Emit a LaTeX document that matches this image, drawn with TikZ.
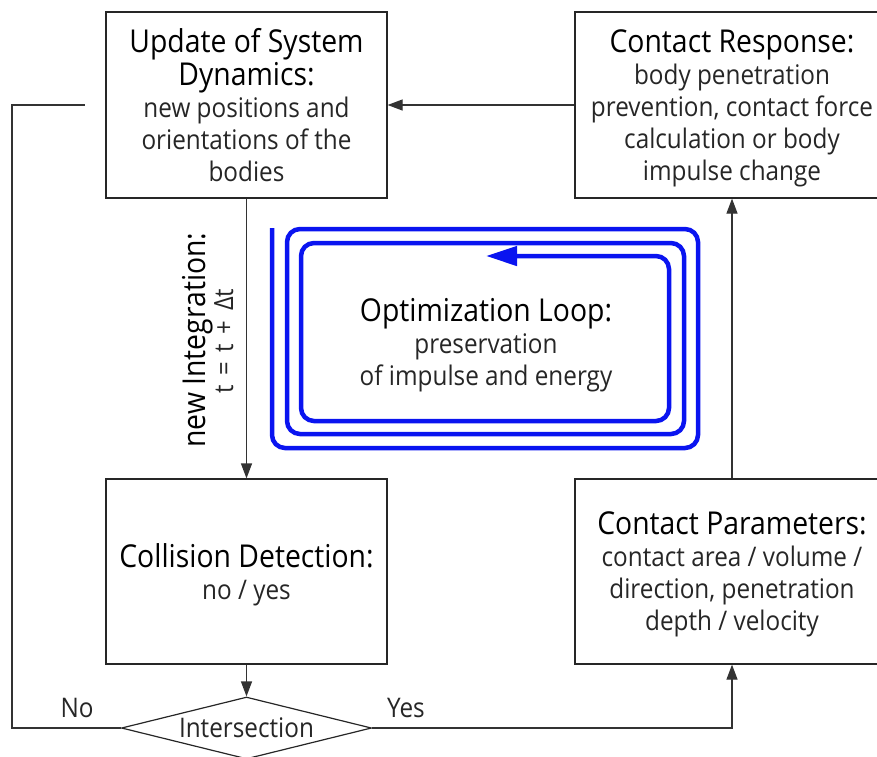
\documentclass[tikz,border=0pt]{standalone}
\usepackage{fontspec}
\setmainfont[FakeStretch=0.9]{Open Sans}
\usetikzlibrary{arrows.meta,shapes.geometric}

\newcommand\headf{\fontsize{31.5}{33}\selectfont\color{black}}
\newcommand\bodyf{\fontsize{27}{32}\selectfont}
\newcommand\stepf{\fontsize{26.5}{28}\selectfont\spaceskip=0.36em\relax}

\tikzset{
  stagebox/.style={draw=black!85, line width=1.2pt, align=center, inner sep=0pt,
    font=\bodyf, text=black!85, text depth=0pt},
  conn/.style={draw=black!80, line width=1.2pt},
  arr/.style={conn, -{Triangle[length=15pt,width=11pt]}},
  decision/.style={diamond, draw=black!85, line width=1.2pt, aspect=4, inner sep=0pt,
    minimum width=250pt, minimum height=62pt, font=\bodyf, text=black!85},
  edgelabel/.style={font=\bodyf, anchor=base, inner sep=0pt, text=black!85},
  loopline/.style={draw={rgb,255:red,10;green,20;blue,240}, line width=4.5pt,
    rounded corners=13pt},
}

\begin{document}
\begin{tikzpicture}[x=1pt,y=-1pt]
\useasboundingbox (0,0) rectangle (877,756);
\clip (0,0) rectangle (877,756);

% stages of the simulation cycle
\node[stagebox, minimum width=281pt, minimum height=186pt] (UD) at (246.5,105)
  {{\headf Update of System}\\[1pt]{\headf Dynamics:}\\new positions and\\orientations of the\\bodies};
\node[stagebox, minimum width=314pt, minimum height=186pt] (CR) at (732,105)
  {{\headf Contact Response:}\\body penetration\\prevention, contact force\\calculation or body\\impulse change};
\node[stagebox, minimum width=281pt, minimum height=185pt] (CD) at (246.5,571.5)
  {{\headf Collision Detection:}\\no / yes};
\node[stagebox, minimum width=314pt, minimum height=185pt] (CP) at (732,571.5)
  {{\headf Contact Parameters:}\\contact area / volume /\\direction, penetration\\depth / velocity};

\node[decision] (dec) at (246.5,728) {Intersection};

% flow between the stages
\draw[arr] (CR.west) -- (UD.east);
\draw[arr] (UD.south) -- (CD.north);
\draw[arr] (CD.south) -- (dec.north);
\draw[arr] (dec.east) -| (CP.south);
\draw[arr] (CP.north) -- (CR.south);

\coordinate (rail) at (12,105);
\coordinate (noend) at (85,105);
\draw[conn] (dec.west) -- (dec.west -| rail) -- (rail) -- (noend);

\node[edgelabel] (nolab) at (77,717) {No};
\node[edgelabel] (yeslab) at (406,717) {Yes};

% time step label along the downward connector
\node[rotate=90, anchor=base, inner sep=0pt, font=\headf] (integ) at (205,340) {new Integration:};
\node[rotate=90, anchor=base, inner sep=0pt, text=black!85, font=\stepf]
  (tstep) at (233,341) {t = t + Δt};

% optimization loop spiral
\draw[loopline, -{Triangle[length=31pt,width=19pt]}]
  (272,228) -- (272,448) -- (698,448) -- (698,229) -- (287,229)
  -- (287,434) -- (684,434) -- (684,243) -- (301,243)
  -- (301,421) -- (669,421) -- (669,256) -- (486,256);

\node[align=center, font=\bodyf, text=black!85, text depth=0pt] (opt) at (486,342)
  {{\headf Optimization Loop:}\\preservation\\of impulse and energy};
\end{tikzpicture}
\end{document}
